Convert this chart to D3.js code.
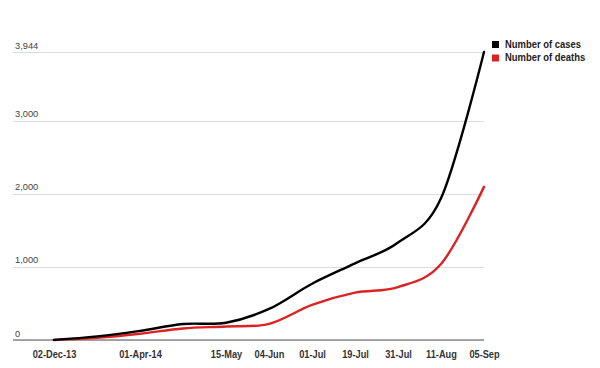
<!DOCTYPE html>
<html>
<head>
<meta charset="utf-8">
<script src="https://cdn.jsdelivr.net/npm/d3@7"></script>
<style>
  html, body { margin: 0; padding: 0; background: #fff; }
  svg { display: block; font-family: Arial, "Liberation Sans", sans-serif; }
</style>
</head>
<body>
<svg id="chart" width="600" height="368"></svg>
<script>
// ---- data ----
const categories = ["02-Dec-13", "", "01-Apr-14", "", "15-May", "04-Jun", "01-Jul", "19-Jul", "31-Jul", "11-Aug", "05-Sep"];
const cases  = [1, 50, 125, 219, 237, 425, 770, 1050, 1335, 1940, 3944];
const deaths = [1, 30, 85, 158, 185, 220, 480, 648, 725, 1040, 2097];
const seriesNames = ["Number of cases", "Number of deaths"];
const yTicks = [0, 1000, 2000, 3000, 3944];

// ---- layout ----
const svg = d3.select("#chart");
const plotLeft = 13, plotRight = 484, plotX0 = 54, plotTop = 52, plotBottom = 340;
const colors = ["#000000", "#dc2222"];

const x = d3.scalePoint().domain(d3.range(categories.length)).range([plotX0, plotRight]);
const y = d3.scaleLinear().domain([0, 3944]).range([plotBottom, plotTop]);
const fmt = d3.format(",");

// gridlines + y labels
const gy = svg.append("g").attr("transform", `translate(${plotLeft},0)`)
  .call(d3.axisRight(y).tickValues(yTicks).tickSize(plotRight - plotLeft).tickFormat(fmt));
gy.select(".domain").remove();
gy.selectAll(".tick line").attr("stroke", "#dcdcdc").attr("stroke-width", 1);
gy.selectAll(".tick text")
  .attr("x", 2).attr("dy", -4).attr("text-anchor", "start")
  .attr("fill", "#444").style("font-size", "9.3px");

// baseline
svg.append("line")
  .attr("x1", plotLeft).attr("x2", plotRight)
  .attr("y1", y(0)).attr("y2", y(0))
  .attr("stroke", "#8a8a8a").attr("stroke-width", 1.5);

// x axis labels
const gx = svg.append("g").attr("transform", `translate(0,${plotBottom})`)
  .call(d3.axisBottom(x).tickSize(0).tickFormat(i => categories[i]));
gx.select(".domain").remove();
gx.selectAll(".tick text")
  .attr("x", 0).attr("y", 18).attr("dy", 0)
  .attr("fill", "#333")
  .style("font-size", "10.5px").style("font-weight", "bold")
  .attr("transform", "scale(0.88,1)");

// lines
const line = d3.line()
  .x((d, i) => x(i))
  .y(d => y(d))
  .curve(d3.curveCatmullRom.alpha(0));

[deaths, cases].forEach((s, k) => {
  svg.append("path")
    .datum(s)
    .attr("fill", "none")
    .attr("stroke", k === 0 ? colors[1] : colors[0])
    .attr("stroke-width", 2.4)
    .attr("stroke-linejoin", "round")
    .attr("stroke-linecap", "round")
    .attr("d", line);
});

// legend
const leg = svg.append("g").attr("transform", "translate(492,41)");
seriesNames.forEach((name, i) => {
  const g = leg.append("g").attr("transform", `translate(0,${i * 13.5})`);
  g.append("rect").attr("width", 7).attr("height", 7).attr("fill", colors[i]);
  g.append("text")
    .attr("transform", "translate(13,6.5) scale(0.9,1)")
    .attr("fill", "#222")
    .style("font-size", "10.5px").style("font-weight", "bold")
    .text(name);
});
</script>
</body>
</html>
